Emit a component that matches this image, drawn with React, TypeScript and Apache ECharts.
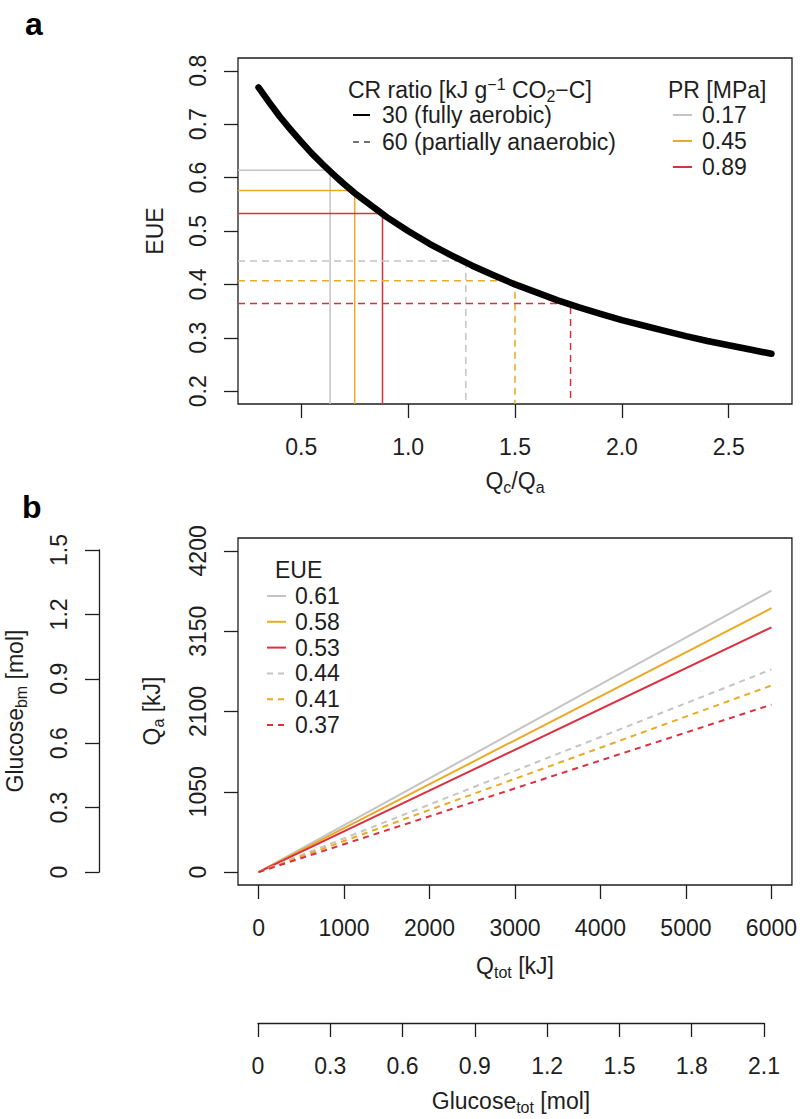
import { useEffect, useRef } from "react";
import * as echarts from "echarts";

// ---------- data ----------
// Panel a: EUE curve vs Qc/Qa
const CURVE_RATIO = [0.3, 0.35, 0.4, 0.45, 0.5, 0.55, 0.6, 0.65, 0.7, 0.75, 0.8, 0.9, 1.0, 1.1, 1.2, 1.3, 1.4, 1.5, 1.6, 1.7, 1.8, 1.9, 2.0, 2.1, 2.2, 2.3, 2.4, 2.5, 2.6, 2.7];
const CURVE_EUE = [0.769, 0.741, 0.714, 0.69, 0.667, 0.645, 0.625, 0.606, 0.588, 0.571, 0.556, 0.526, 0.5, 0.476, 0.455, 0.435, 0.417, 0.4, 0.385, 0.37, 0.357, 0.345, 0.333, 0.323, 0.313, 0.303, 0.294, 0.286, 0.278, 0.27];

// PR levels
const PR_LABELS = ["0.17", "0.45", "0.89"];
// CR = 30 (fully aerobic)
const AEROBIC_RATIO = [0.635, 0.75, 0.88];
const AEROBIC_EUE = [0.614, 0.576, 0.533];
// CR = 60 (partially anaerobic)
const ANAEROBIC_RATIO = [1.27, 1.5, 1.76];
const ANAEROBIC_EUE = [0.444, 0.407, 0.364];

// Panel b: Qa vs Qtot lines
const QTOT_RANGE = [0, 6000];
const QA_AT_END = [3680, 3450, 3200, 2650, 2440, 2190];
const EUE_LABELS = ["0.61", "0.58", "0.53", "0.44", "0.41", "0.37"];

// tick values
const A_X_TICKS = [0.5, 1.0, 1.5, 2.0, 2.5];
const A_Y_TICKS = [0.2, 0.3, 0.4, 0.5, 0.6, 0.7, 0.8];
const B_X_TICKS = [0, 1000, 2000, 3000, 4000, 5000, 6000];
const B_Y_TICKS = [0, 1050, 2100, 3150, 4200];
const GLU_BM_TICKS = [0, 0.3, 0.6, 0.9, 1.2, 1.5];
const GLU_TOT_TICKS = [0, 0.3, 0.6, 0.9, 1.2, 1.5, 1.8, 2.1];

// axis ranges (R style 4% padding)
const A_X_RANGE = [0.204, 2.796];
const A_Y_RANGE = [0.176, 0.824];
const B_X_RANGE = [-240, 6240];
const B_Y_RANGE = [-168, 4368];
const GLU_BM_RANGE = [0, 1.5];
const GLU_TOT_RANGE = [0, 2.1];

// ---------- styles ----------
const FONT = '"Liberation Sans", Arial, Helvetica, sans-serif';
const INK = "#1e1e1e";
const FS = 23;
const COLORS = ["#C4C4C4", "#EAAA25", "#DC2F40"];
const B_COLORS = [COLORS[0], COLORS[1], COLORS[2], COLORS[0], COLORS[1], COLORS[2]];
const B_DASHED = [false, false, false, true, true, true];

const fmt1 = (v: number) => (v === 0 ? "0" : v.toFixed(1));

function axisCommon(ticks: number[], formatter: (v: number) => string, opts: any = {}) {
  return {
    type: "value",
    splitLine: { show: false },
    axisLine: { show: false, onZero: false, lineStyle: { color: INK, width: 1.3 } },
    axisTick: { show: true, length: 14, customValues: ticks, lineStyle: { color: INK, width: 1.3 } },
    axisLabel: {
      customValues: ticks,
      formatter,
      fontSize: FS,
      fontFamily: FONT,
      color: INK,
      margin: 31,
      showMinLabel: true,
      showMaxLabel: true,
    },
    ...opts,
  };
}

const richSub = { fontSize: 16, fontFamily: FONT, fill: INK, padding: [12, 0, 0, 0] };
const richSup = { fontSize: 16, fontFamily: FONT, fill: INK, padding: [0, 0, 11, 0] };

function text(x: number, y: number, t: string, extra: any = {}, rotation = 0) {
  return {
    type: "text",
    x,
    y,
    rotation,
    silent: true,
    style: {
      text: t,
      fontSize: FS,
      fontFamily: FONT,
      fill: INK,
      align: "left",
      verticalAlign: "middle",
      rich: { s: richSub, p: richSup },
      ...extra,
    },
  };
}

function seg(x1: number, y1: number, x2: number, y2: number, stroke: string, width: number, dash?: number[]) {
  return {
    type: "line",
    silent: true,
    shape: { x1, y1, x2, y2 },
    style: { stroke, lineWidth: width, lineDash: dash || null },
  };
}

export default function App() {
  const ref = useRef<HTMLDivElement>(null);

  useEffect(() => {
    document.body.style.margin = "0";
    if (!ref.current) return;
    const chart = echarts.init(ref.current, undefined, { renderer: "svg" });

    const series: any[] = [];
    // panel a reference lines
    AEROBIC_RATIO.forEach((r, i) => {
      series.push({
        type: "line",
        xAxisIndex: 0,
        yAxisIndex: 0,
        symbol: "none",
        silent: true,
        z: 1,
        data: [[A_X_RANGE[0], AEROBIC_EUE[i]], [r, AEROBIC_EUE[i]], [r, A_Y_RANGE[0]]],
        lineStyle: { color: COLORS[i], width: 1.5, type: "solid" },
      });
    });
    ANAEROBIC_RATIO.forEach((r, i) => {
      series.push({
        type: "line",
        xAxisIndex: 0,
        yAxisIndex: 0,
        symbol: "none",
        silent: true,
        z: 1,
        data: [[A_X_RANGE[0], ANAEROBIC_EUE[i]], [r, ANAEROBIC_EUE[i]], [r, A_Y_RANGE[0]]],
        lineStyle: { color: COLORS[i], width: 1.5, type: [7, 5] },
      });
    });
    // curve
    series.push({
      type: "line",
      xAxisIndex: 0,
      yAxisIndex: 0,
      symbol: "none",
      silent: true,
      z: 3,
      smooth: false,
      data: CURVE_RATIO.map((x, i) => [x, CURVE_EUE[i]]),
      lineStyle: { color: "#000", width: 6.5, cap: "round", join: "round" },
    });
    // panel b lines
    QA_AT_END.forEach((qa, i) => {
      series.push({
        type: "line",
        xAxisIndex: 1,
        yAxisIndex: 1,
        symbol: "none",
        silent: true,
        data: [[QTOT_RANGE[0], 0], [QTOT_RANGE[1], qa]],
        lineStyle: { color: B_COLORS[i], width: 2, type: B_DASHED[i] ? [6, 5] : "solid" },
      });
    });

    const graphic: any[] = [];
    // panel letters
    graphic.push(text(25, 24, "a", { fontSize: 32, fontWeight: "bold", fill: "#000" }));
    graphic.push(text(22, 507, "b", { fontSize: 32, fontWeight: "bold", fill: "#000" }));

    // axis titles
    graphic.push(text(155, 231, "EUE", { align: "center" }, Math.PI / 2));
    graphic.push(text(515, 481, "Q{s|c}/Q{s|a}", { align: "center" }));
    graphic.push(text(152, 711, "Q{s|a} [kJ]", { align: "center" }, Math.PI / 2));
    graphic.push(text(15, 711, "Glucose{s|bm} [mol]", { align: "center" }, Math.PI / 2));
    graphic.push(text(515, 966, "Q{s|tot} [kJ]", { align: "center" }));
    graphic.push(text(511, 1101, "Glucose{s|tot} [mol]", { align: "center" }));

    // panel a legend: CR ratio
    graphic.push(text(348, 90, "CR ratio [kJ g{p|\u22121} CO{s|2}\u2212C]"));
    graphic.push(seg(353, 115, 370, 115, "#000", 2));
    graphic.push(text(382, 115, "30 (fully aerobic)"));
    graphic.push(seg(353, 142, 372, 142, "#444", 1.5, [6, 5]));
    graphic.push(text(382, 142, "60 (partially anaerobic)"));
    // panel a legend: PR
    graphic.push(text(668, 90, "PR [MPa]"));
    PR_LABELS.forEach((lab, i) => {
      const y = 115 + i * 26;
      graphic.push(seg(673, y, 692, y, COLORS[i], 2));
      graphic.push(text(702, y, lab));
    });
    // panel b legend: EUE
    graphic.push(text(275, 570, "EUE"));
    EUE_LABELS.forEach((lab, i) => {
      const y = 596 + i * 25.8;
      graphic.push(seg(267, y, 286, y, B_COLORS[i], 2, B_DASHED[i] ? [6, 5] : undefined));
      graphic.push(text(295, y, lab));
    });

    const option: any = {
      animation: false,
      backgroundColor: "#ffffff",
      grid: [
        { left: 238, top: 58, width: 554, height: 346, show: true, borderColor: INK, borderWidth: 1.3, backgroundColor: "transparent" },
        { left: 238, top: 538, width: 554, height: 347, show: true, borderColor: INK, borderWidth: 1.3, backgroundColor: "transparent" },
        { left: 99, top: 550, width: 10, height: 322, show: false },
        { left: 258, top: 1000, width: 506, height: 23, show: false },
      ],
      xAxis: [
        axisCommon(A_X_TICKS, (v) => v.toFixed(1), { gridIndex: 0, min: A_X_RANGE[0], max: A_X_RANGE[1], position: "bottom" }),
        axisCommon(B_X_TICKS, (v) => String(v), { gridIndex: 1, min: B_X_RANGE[0], max: B_X_RANGE[1], position: "bottom" }),
        { type: "value", gridIndex: 2, show: false, min: 0, max: 1 },
        (() => {
          const a: any = axisCommon(GLU_TOT_TICKS, fmt1, { gridIndex: 3, min: GLU_TOT_RANGE[0], max: GLU_TOT_RANGE[1], position: "bottom" });
          a.axisLine.show = true;
          return a;
        })(),
      ],
      yAxis: [
        (() => {
          const a: any = axisCommon(A_Y_TICKS, (v) => v.toFixed(1), { gridIndex: 0, min: A_Y_RANGE[0], max: A_Y_RANGE[1], position: "left" });
          a.axisLabel.rotate = 90;
          a.axisLabel.margin = 29;
          return a;
        })(),
        (() => {
          const a: any = axisCommon(B_Y_TICKS, (v) => String(v), { gridIndex: 1, min: B_Y_RANGE[0], max: B_Y_RANGE[1], position: "left" });
          a.axisLabel.rotate = 90;
          a.axisLabel.margin = 29;
          return a;
        })(),
        (() => {
          const a: any = axisCommon(GLU_BM_TICKS, fmt1, { gridIndex: 2, min: GLU_BM_RANGE[0], max: GLU_BM_RANGE[1], position: "left" });
          a.axisLabel.rotate = 90;
          a.axisLabel.margin = 29;
          a.axisLine.show = true;
          return a;
        })(),
        { type: "value", gridIndex: 3, show: false, min: 0, max: 1 },
      ],
      series,
      graphic,
    };

    chart.setOption(option);
    return () => chart.dispose();
  }, []);

  return <div ref={ref} style={{ width: 800, height: 1119 }} />;
}
